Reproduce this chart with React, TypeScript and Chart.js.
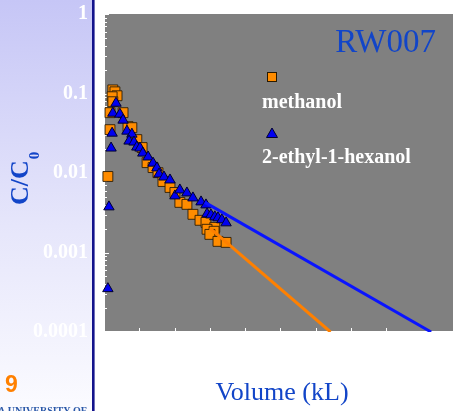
import React, { useEffect, useRef } from "react";
import { Chart, registerables } from "chart.js";

Chart.register(...registerables);

// ---- data ----
const methanolX = [0.25, 0.31, 0.37, 0.23, 0.25, 0.17, 0.54, 0.17, 0.68, 0.79, 0.93, 1.08, 1.22, 1.39, 1.53, 1.67, 1.87, 2.01, 2.15, 2.35, 2.52, 2.72, 2.89, 3.14, 2.92, 3.12, 3.0, 3.23, 3.46, 0.11];
const methanolY = [0.111, 0.105, 0.0937, 0.091, 0.0788, 0.0574, 0.0574, 0.0351, 0.0383, 0.0372, 0.0263, 0.0209, 0.0135, 0.0117, 0.0101, 0.00782, 0.00658, 0.00569, 0.00427, 0.00403, 0.00302, 0.00254, 0.00239, 0.00207, 0.00196, 0.00185, 0.00169, 0.00138, 0.00134, 0.00904];

const ethylhexanolX = [0.34, 0.25, 0.45, 0.54, 0.23, 0.65, 0.79, 0.71, 0.85, 0.93, 1.02, 1.1, 1.25, 1.39, 1.5, 1.56, 1.7, 1.87, 2.01, 2.15, 2.35, 2.52, 2.75, 2.89, 2.92, 3.03, 3.14, 3.23, 3.34, 3.46, 0.2, 0.14, 0.11];
const ethylhexanolY = [0.0755, 0.0565, 0.0549, 0.0462, 0.0317, 0.0336, 0.0308, 0.0252, 0.0245, 0.0212, 0.0206, 0.0178, 0.0159, 0.0133, 0.0116, 0.0097, 0.0089, 0.00817, 0.00515, 0.00612, 0.00561, 0.00486, 0.00433, 0.00397, 0.00306, 0.00297, 0.00281, 0.00273, 0.00258, 0.00236, 0.0206, 0.00375, 0.000351];

const methanolFitX = [3.0, 6.42];
const methanolFitY = [0.00203, 0.0001];
const ethylhexanolFitX = [2.86, 9.27];
const ethylhexanolFitY = [0.00427, 0.0001];

const yTickValues = [1, 0.1, 0.01, 0.001, 0.0001];
const yTickLabels = ["1", "0.1", "0.01", "0.001", "0.0001"];
const xMin = 0;
const xMax = 9.89;

const seriesNames = ["methanol", "2-ethyl-1-hexanol"];
const chartTitle = "RW007";
const xAxisTitle = "Volume (kL)";
const yAxisTitleMain = "C/C";
const yAxisTitleSub = "0";
const slideNumber = "9";
const footerText = "A UNIVERSITY OF";

const ORANGE = "#ff8c00";
const ORANGE_LINE = "#ff8000";
const BLUE = "#0000f0";
const BLUE_LINE = "#0a14ff";
const TITLE_BLUE = "#1245c8";
const SERIF = "'Liberation Serif', 'Times New Roman', serif";

const zip = (xs: number[], ys: number[]) => xs.map((x, i) => ({ x, y: ys[i] }));

const decorPlugin = {
  id: "decor",
  beforeDraw(chart: any) {
    const { ctx, chartArea } = chart;
    const W = chart.width;
    const H = chart.height;
    ctx.save();
    ctx.fillStyle = "#ffffff";
    ctx.fillRect(0, 0, W, H);
    const g = ctx.createLinearGradient(0, 0, 0, H);
    g.addColorStop(0, "#c6c6f6");
    g.addColorStop(0.55, "#e6e6fb");
    g.addColorStop(1, "#fbfbff");
    ctx.fillStyle = g;
    ctx.fillRect(0, 0, 92, H);
    ctx.fillStyle = "#13138c";
    ctx.fillRect(92, 0, 2.6, H);
    ctx.fillStyle = "#808080";
    ctx.fillRect(chartArea.left, chartArea.top, chartArea.right - chartArea.left, chartArea.bottom - chartArea.top);
    ctx.restore();
  },
  beforeDatasetsDraw(chart: any) {
    const { ctx, chartArea } = chart;
    const xs = chart.scales.x;
    const ys = chart.scales.y;
    ctx.save();
    ctx.strokeStyle = "#ffffff";
    ctx.lineWidth = 2;
    ctx.beginPath();
    ctx.moveTo(chartArea.left, chartArea.top);
    ctx.lineTo(chartArea.left, chartArea.bottom);
    ctx.lineTo(chartArea.right, chartArea.bottom);
    ctx.stroke();
    ctx.lineWidth = 1;
    ctx.beginPath();
    for (const t of xs.ticks) {
      const px = Math.round(xs.getPixelForValue(t.value)) + 0.5;
      ctx.moveTo(px, chartArea.bottom);
      ctx.lineTo(px, chartArea.bottom - 4);
    }
    for (let d = -4; d <= 0; d++) {
      for (let m = 1; m <= 9; m++) {
        const v = m * Math.pow(10, d);
        if (v > 1 || v < 0.0001) continue;
        const py = Math.round(ys.getPixelForValue(v)) + 0.5;
        ctx.moveTo(chartArea.left, py);
        ctx.lineTo(chartArea.left + (m === 1 ? 5 : 3), py);
      }
    }
    ctx.stroke();
    ctx.restore();
  },
  afterDraw(chart: any) {
    const { ctx } = chart;
    ctx.save();
    // title
    ctx.fillStyle = TITLE_BLUE;
    ctx.font = `33px ${SERIF}`;
    ctx.textAlign = "right";
    ctx.textBaseline = "alphabetic";
    ctx.fillText(chartTitle, 436, 52);
    // legend
    ctx.lineWidth = 1;
    ctx.fillStyle = ORANGE;
    ctx.strokeStyle = "#2a1a00";
    ctx.fillRect(267.5, 72.5, 9, 9);
    ctx.strokeRect(267.5, 72.5, 9, 9);
    ctx.fillStyle = BLUE;
    ctx.strokeStyle = "#000030";
    ctx.beginPath();
    ctx.moveTo(272, 128);
    ctx.lineTo(277.5, 137.5);
    ctx.lineTo(266.5, 137.5);
    ctx.closePath();
    ctx.fill();
    ctx.stroke();
    ctx.fillStyle = "#ffffff";
    ctx.font = `bold 20px ${SERIF}`;
    ctx.textAlign = "left";
    ctx.fillText(seriesNames[0], 262, 108);
    ctx.fillText(seriesNames[1], 262, 163);
    // x axis title
    ctx.fillStyle = TITLE_BLUE;
    ctx.font = `26px ${SERIF}`;
    ctx.textAlign = "center";
    ctx.fillText(xAxisTitle, 282, 400);
    // y axis title
    ctx.save();
    ctx.translate(28, 205);
    ctx.rotate(-Math.PI / 2);
    ctx.textAlign = "left";
    ctx.font = `bold 26px ${SERIF}`;
    ctx.fillText(yAxisTitleMain, 0, 0);
    const w = ctx.measureText(yAxisTitleMain).width;
    ctx.font = `bold 15px ${SERIF}`;
    ctx.fillText(yAxisTitleSub, w + 1, 11);
    ctx.restore();
    // slide number and footer
    ctx.fillStyle = "#ff8000";
    ctx.font = `bold 23px 'Liberation Sans', Arial, sans-serif`;
    ctx.textAlign = "left";
    ctx.fillText(slideNumber, 5, 392);
    ctx.fillStyle = "#2a58a8";
    ctx.font = `bold 10px ${SERIF}`;
    ctx.fillText(footerText, -2, 414);
    ctx.restore();
  },
};

export default function App() {
  const ref = useRef<HTMLCanvasElement>(null);
  useEffect(() => {
    if (!ref.current) return;
    const chart = new Chart(ref.current, {
      type: "scatter",
      data: {
        datasets: [
          {
            label: seriesNames[1] + " fit",
            data: zip(ethylhexanolFitX, ethylhexanolFitY),
            showLine: true,
            borderColor: BLUE_LINE,
            borderWidth: 3,
            pointRadius: 0,
          },
          {
            label: seriesNames[0] + " fit",
            data: zip(methanolFitX, methanolFitY),
            showLine: true,
            borderColor: ORANGE_LINE,
            borderWidth: 3,
            pointRadius: 0,
          },
          {
            label: seriesNames[1],
            data: zip(ethylhexanolX, ethylhexanolY),
            pointStyle: "triangle",
            pointRadius: 6,
            backgroundColor: BLUE,
            borderColor: "#000030",
            borderWidth: 1,
            clip: false,
          },
          {
            label: seriesNames[0],
            data: zip(methanolX, methanolY),
            pointStyle: "rect",
            pointRadius: 7,
            backgroundColor: ORANGE,
            borderColor: "rgba(45,30,5,0.9)",
            borderWidth: 1,
            clip: false,
          },
        ],
      },
      options: {
        animation: false,
        responsive: false,
        maintainAspectRatio: false,
        layout: { autoPadding: false, padding: { left: 0, right: 0, top: 14, bottom: 0 } },
        plugins: { legend: { display: false }, tooltip: { enabled: false }, title: { display: false } },
        scales: {
          x: {
            type: "linear",
            min: xMin,
            max: xMax,
            ticks: { display: false, stepSize: 1 },
            grid: { display: false, drawTicks: false },
            border: { display: false },
            afterFit: (s: any) => {
              s.height = 79;
            },
          },
          y: {
            type: "logarithmic",
            min: 0.0001,
            max: 1,
            afterBuildTicks: (s: any) => {
              s.ticks = yTickValues.map((v) => ({ value: v, major: true }));
            },
            ticks: {
              autoSkip: false,
              padding: 0,
              color: "#ffffff",
              font: { family: SERIF, size: 20, weight: "bold" },
              callback: (v: any) => {
                const i = yTickValues.findIndex((t) => Math.abs(t - Number(v)) < t * 1e-6);
                return i >= 0 ? yTickLabels[i] : "";
              },
            },
            grid: { display: false, drawTicks: true, tickLength: 16 },
            border: { display: false },
            afterFit: (s: any) => {
              s.width = 104;
            },
          },
        },
      },
      plugins: [decorPlugin],
    } as any);
    return () => chart.destroy();
  }, []);
  return (
    <div style={{ position: "fixed", left: 0, top: 0, width: 453, height: 411, overflow: "hidden", background: "#fff" }}>
      <canvas ref={ref} width={453} height={411} style={{ display: "block", width: 453, height: 411 }} />
    </div>
  );
}
